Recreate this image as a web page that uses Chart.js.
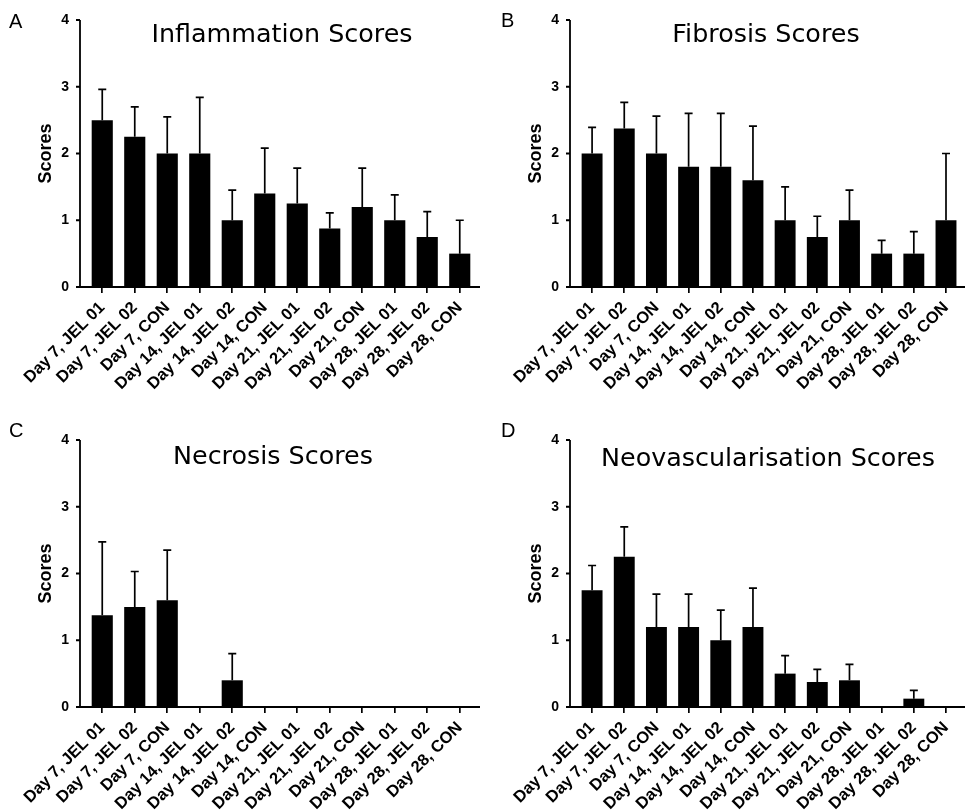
<!DOCTYPE html>
<html>
<head>
<meta charset="utf-8">
<script src="https://cdn.jsdelivr.net/npm/chart.js@4.4.3/dist/chart.umd.min.js"></script>
<style>
  body { margin:0; background:#fff; width:965px; height:811px; position:relative; overflow:hidden; }
  canvas { position:absolute; }
  .letter { position:absolute; font:20px "Liberation Sans", Arial, sans-serif; line-height:1; color:#000; }
  .title { position:absolute; width:440px; text-align:center; font:25.4px "DejaVu Sans", Verdana, sans-serif; line-height:1; color:#000; white-space:nowrap; }
</style>
</head>
<body>
<script>
// groups on the x axis (same for all four panels)
const categories = ['Day 7, JEL 01', 'Day 7, JEL 02', 'Day 7, CON',
  'Day 14, JEL 01', 'Day 14, JEL 02', 'Day 14, CON',
  'Day 21, JEL 01', 'Day 21, JEL 02', 'Day 21, CON',
  'Day 28, JEL 01', 'Day 28, JEL 02', 'Day 28, CON'];
const yTicks = [0, 1, 2, 3, 4];

// mean scores + upper error (SD)
const inflammation    = [2.5, 2.25, 2.0, 2.0, 1.0, 1.4, 1.25, 0.875, 1.2, 1.0, 0.75, 0.5];
const inflammationErr = [0.46, 0.45, 0.55, 0.84, 0.45, 0.68, 0.53, 0.235, 0.58, 0.38, 0.38, 0.5];
const fibrosis        = [2.0, 2.375, 2.0, 1.8, 1.8, 1.6, 1.0, 0.75, 1.0, 0.5, 0.5, 1.0];
const fibrosisErr     = [0.39, 0.39, 0.56, 0.8, 0.8, 0.81, 0.5, 0.31, 0.45, 0.2, 0.33, 1.0];
const necrosis        = [1.375, 1.5, 1.6, 0, 0.4, 0, 0, 0, 0, 0, 0, 0];
const necrosisErr     = [1.1, 0.53, 0.75, 0, 0.4, 0, 0, 0, 0, 0, 0, 0];
const neovasc         = [1.75, 2.25, 1.2, 1.2, 1.0, 1.2, 0.5, 0.375, 0.4, 0, 0.125, 0];
const neovascErr      = [0.37, 0.45, 0.49, 0.49, 0.45, 0.58, 0.27, 0.19, 0.24, 0, 0.125, 0];

const panels = [
  { letter:'A', title:'Inflammation Scores', data:inflammation, err:inflammationErr,
    left:0, top:0, w:482, h:405, lx:9, ly:11, tx:282, ty:21 },
  { letter:'B', title:'Fibrosis Scores', data:fibrosis, err:fibrosisErr,
    left:490, top:0, w:475, h:405, lx:501, ly:10, tx:766, ty:21 },
  { letter:'C', title:'Necrosis Scores', data:necrosis, err:necrosisErr,
    left:0, top:420, w:482, h:391, lx:9, ly:420, tx:273, ty:443 },
  { letter:'D', title:'Neovascularisation Scores', data:neovasc, err:neovascErr,
    left:490, top:420, w:475, h:391, lx:501, ly:420, tx:768, ty:445 }
];

// error bars (upwards only) + Prism-style detached axes
const prismBits = {
  id: 'prismBits',
  afterDatasetsDraw(chart, args, opts) {
    const { ctx, chartArea: a, scales: { y } } = chart;
    const vals = chart.data.datasets[0].data;
    ctx.save();
    ctx.strokeStyle = '#000';
    ctx.lineWidth = 1.7;
    chart.getDatasetMeta(0).data.forEach((bar, i) => {
      const e = opts.errors[i];
      if (!e) return;
      const yt = y.getPixelForValue(vals[i] + e);
      ctx.beginPath();
      ctx.moveTo(bar.x, bar.y); ctx.lineTo(bar.x, yt);
      ctx.moveTo(bar.x - 4, yt); ctx.lineTo(bar.x + 4, yt);
      ctx.stroke();
    });
    const x0 = a.left - 6;
    ctx.lineWidth = 1.8;
    ctx.beginPath();
    ctx.moveTo(x0, a.top); ctx.lineTo(x0, a.bottom);
    ctx.lineTo(Math.min(a.right + 4, chart.width), a.bottom);
    yTicks.forEach(v => {
      const py = y.getPixelForValue(v);
      ctx.moveTo(x0 - 4, py); ctx.lineTo(x0, py);
    });
    ctx.stroke();
    ctx.restore();
  }
};

panels.forEach(p => {
  const cv = document.createElement('canvas');
  cv.width = p.w; cv.height = p.h;
  cv.style.left = p.left + 'px'; cv.style.top = p.top + 'px';
  document.body.appendChild(cv);

  const l = document.createElement('div');
  l.className = 'letter'; l.textContent = p.letter;
  l.style.left = p.lx + 'px'; l.style.top = p.ly + 'px';
  document.body.appendChild(l);

  const t = document.createElement('div');
  t.className = 'title'; t.textContent = p.title;
  t.style.left = (p.tx - 220) + 'px'; t.style.top = p.ty + 'px';
  document.body.appendChild(t);

  new Chart(cv.getContext('2d'), {
    type: 'bar',
    data: {
      labels: categories,
      datasets: [{ data: p.data, backgroundColor: '#000', borderWidth: 0,
        barPercentage: 0.65, categoryPercentage: 1 }]
    },
    options: {
      responsive: false,
      animation: false,
      layout: { padding: { top: 20, left: 0, right: Math.max(p.w - 86 - 390, 0), bottom: 0 } },
      plugins: { legend: { display: false }, tooltip: { enabled: false }, prismBits: { errors: p.err } },
      scales: {
        x: {
          offset: true,
          grid: { display: true, drawOnChartArea: false, offset: false, tickLength: 6, color: '#000', lineWidth: 1.7 },
          border: { display: false },
          ticks: { autoSkip: false, maxRotation: 45, minRotation: 45, padding: 5, color: '#000',
            font: { family: '"Liberation Sans", Arial, sans-serif', weight: 'bold', size: 16.5 } },
          afterFit(s) { s.height = p.h - 287; }
        },
        y: {
          min: 0, max: 4,
          grid: { display: false },
          border: { display: false },
          ticks: { stepSize: 1, padding: 9, color: '#000',
            font: { family: '"Liberation Sans", Arial, sans-serif', weight: 'bold', size: 14 } },
          title: { display: true, text: 'Scores', color: '#000', padding: { top: 35, bottom: 0 },
            font: { family: '"Liberation Sans", Arial, sans-serif', weight: 'bold', size: 18 } },
          afterFit(s) { s.width = 86; }
        }
      }
    },
    plugins: [prismBits]
  });
});
</script>
</body>
</html>
